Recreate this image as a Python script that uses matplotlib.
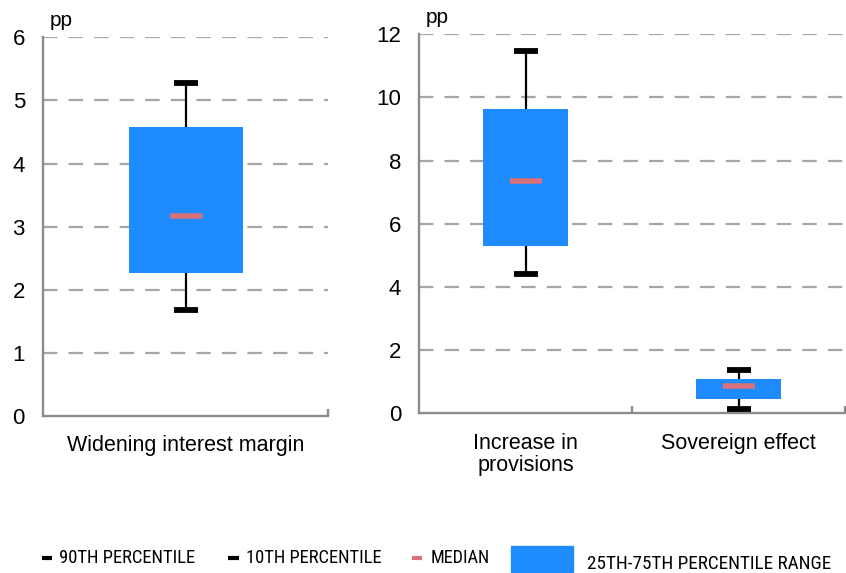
import matplotlib
matplotlib.use("Agg")
import matplotlib.pyplot as plt
from matplotlib.lines import Line2D
from matplotlib.patches import Rectangle
from matplotlib import font_manager

# ---------------- data ----------------
left_categories = ["Widening interest margin"]
left_p10 = [1.68]
left_q25 = [2.27]
left_median = [3.17]
left_q75 = [4.58]
left_p90 = [5.27]

right_categories = ["Increase in\nprovisions", "Sovereign effect"]
right_p10 = [4.42, 0.15]
right_q25 = [5.31, 0.45]
right_median = [7.37, 0.86]
right_q75 = [9.65, 1.10]
right_p90 = [11.48, 1.37]

left_yticks = [0, 1, 2, 3, 4, 5, 6]
right_yticks = [0, 2, 4, 6, 8, 10, 12]
unit_label = "pp"
legend_labels = ["90TH PERCENTILE", "10TH PERCENTILE", "MEDIAN", "25TH-75TH PERCENTILE RANGE"]

# ---------------- style ----------------
BLUE = "#1E8CFF"
PINK = "#D9707A"
GRID = "#A6A6A6"
SPINE = "#8C8C8C"
FONT = ["Liberation Sans", "DejaVu Sans"]
avail = {f.name for f in font_manager.fontManager.ttflist}
narrow_pref = ["Liberation Sans Narrow", "Arial Narrow", "Roboto Condensed", "Archivo Narrow",
               "PT Sans Narrow", "Open Sans Condensed", "IBM Plex Sans Condensed", "Encode Sans Condensed",
               "Fira Sans Condensed", "Asap Condensed", "Sofia Sans Condensed"]
NARROW = FONT
for n in narrow_pref:
    if n in avail:
        NARROW = [n, "Liberation Sans", "DejaVu Sans"]
        break
plt.rcParams["font.family"] = FONT

W, H = 846, 573
fig = plt.figure(figsize=(W / 100, H / 100), dpi=100)

def px_axes(l, r, top, bottom):
    return fig.add_axes([l / W, (H - bottom) / H, (r - l) / W, (bottom - top) / H])

axL = px_axes(43, 328, 37.3, 416)
axR = px_axes(419.3, 845, 34.3, 413.3)


def draw(ax, cats, p10, q25, med, q75, p90, yticks, cap_pt, med_pt):
    n = len(cats)
    xs = list(range(n))
    ax.set_xlim(-0.5, n - 0.5)
    ax.set_ylim(yticks[0], yticks[-1])
    for y in yticks[1:]:
        ax.axhline(y, color=GRID, lw=1.6, dashes=(6.5, 5), zorder=0)
    ax.vlines(xs, p10, p90, color="black", lw=1.6, zorder=1)
    heights = [b - a for a, b in zip(q25, q75)]
    ax.bar(xs, heights, bottom=q25, width=0.4, color=BLUE, zorder=2)
    ax.plot(xs, p90, ls="none", marker="_", ms=cap_pt, mew=4.2, color="black", zorder=3)
    ax.plot(xs, p10, ls="none", marker="_", ms=cap_pt, mew=4.2, color="black", zorder=3)
    ax.plot(xs, med, ls="none", marker="_", ms=med_pt, mew=4.0, color=PINK, zorder=4)

    for s in ["top", "right"]:
        ax.spines[s].set_visible(False)
    for s in ["left", "bottom"]:
        ax.spines[s].set_color(SPINE)
        ax.spines[s].set_linewidth(1.7)
    ax.set_yticks(yticks)
    ax.tick_params(axis="y", length=0, pad=13, labelsize=16, colors="black")
    ax.set_xticks([i + 0.5 for i in range(n)])
    ax.set_xticklabels([])
    ax.tick_params(axis="x", which="major", direction="in", length=5, width=1.7, color=SPINE)
    ax.set_xticks(xs, minor=True)
    ax.set_xticklabels(cats, minor=True, fontsize=15.5, linespacing=1.05)
    ax.tick_params(axis="x", which="minor", length=0, pad=14)
    ax.annotate(unit_label, xy=(0, 1), xycoords="axes fraction", xytext=(4.5, 8),
                textcoords="offset points", fontsize=15, va="baseline", ha="left")


draw(axL, left_categories, left_p10, left_q25, left_median, left_q75, left_p90, left_yticks, 17, 23)
draw(axR, right_categories, right_p10, right_q25, right_median, right_q75, right_p90, right_yticks, 17, 23)

# ---------------- legend (manual) ----------------
def fx(x):
    return x / W

def fy(y):
    return (H - y) / H

renderer = fig.canvas.get_renderer()

def fitted_text(x_left, x_right, y, label):
    t = fig.text(fx(x_left), fy(y), label, family=NARROW, fontsize=12, va="center", ha="left")
    w = t.get_window_extent(renderer).width
    size = 12 * (x_right - x_left) / w
    t.set_fontsize(min(size, 14))
    return t

ly = 558
markers = [(42, 52, "black"), (228, 239, "black"), (412, 422, PINK)]
text_span = [(59, 195), (245.5, 380), (431, 490)]
for (x0, x1, c), (tx0, tx1), lab in zip(markers, text_span, legend_labels[:3]):
    fig.add_artist(Line2D([fx(x0), fx(x1)], [fy(ly), fy(ly)], color=c, lw=3, solid_capstyle="butt"))
    fitted_text(tx0, tx1, ly, lab)
fig.add_artist(Rectangle((fx(511), fy(572)), fx(573) - fx(511), (572 - 546) / H, color=BLUE, transform=fig.transFigure))
fitted_text(587, 830, 564, legend_labels[3])

fig.savefig("out.png", dpi=100)
